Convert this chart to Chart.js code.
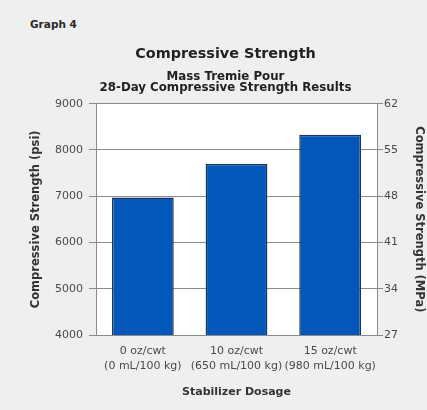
<!DOCTYPE html>
<html>
<head>
<meta charset="utf-8">
<script src="https://cdn.jsdelivr.net/npm/chart.js@4.4.1/dist/chart.umd.min.js"></script>
<style>
  body { margin: 0; background: #efefef; }
  #wrap { position: relative; width: 427px; height: 410px; }
  #graphLabel { position: absolute; left: 30px; top: 18px; line-height: 12px; font: bold 10.5px "DejaVu Sans", sans-serif; color: #2a2a2a; }
  canvas { position: absolute; left: 0; top: 0; }
</style>
</head>
<body>
<div id="wrap">
  <div id="graphLabel">Graph 4</div>
  <canvas id="chart" width="427" height="410"></canvas>
</div>
<script>
// Chart data
const categories = [
    ['0 oz/cwt', '(0 mL/100 kg)'],
    ['10 oz/cwt', '(650 mL/100 kg)'],
    ['15 oz/cwt', '(980 mL/100 kg)']
];
const psiValues = [6970, 7700, 8330];
const psiTicks = [4000, 5000, 6000, 7000, 8000, 9000];
const mpaTicks = [27, 34, 41, 48, 55, 62];

const fontFamily = '"DejaVu Sans", sans-serif';
const lineGrey = '#8a8a8a';

// white plot area on grey page
const plotBackground = {
    id: 'plotBackground',
    beforeDraw: function(chart) {
        const a = chart.chartArea;
        const ctx = chart.ctx;
        ctx.save();
        ctx.fillStyle = '#ffffff';
        ctx.fillRect(a.left, a.top, a.right - a.left, a.bottom - a.top);
        ctx.restore();
    }
};

function plainTick(value) {
    return String(value);
}

const ctx = document.getElementById('chart').getContext('2d');
new Chart(ctx, {
    type: 'bar',
    data: {
        labels: categories,
        datasets: [{
            data: psiValues,
            backgroundColor: '#0357b8',
            borderColor: '#1d3557',
            borderWidth: 1.5,
            barPercentage: 0.66,
            categoryPercentage: 1.0,
            yAxisID: 'y'
        }]
    },
    options: {
        responsive: false,
        animation: false,
        layout: { padding: { top: 36, left: 24, right: 0, bottom: 0 } },
        plugins: {
            legend: { display: false },
            tooltip: { enabled: false },
            title: {
                display: true,
                text: 'Compressive Strength',
                color: '#222',
                font: { family: fontFamily, size: 14.4, weight: 'bold', lineHeight: 1.15 },
                padding: { top: 9.5, bottom: 2 }
            },
            subtitle: {
                display: true,
                text: ['Mass Tremie Pour', '28-Day Compressive Strength Results'],
                color: '#222',
                font: { family: fontFamily, size: 11.8, weight: 'bold', lineHeight: 1.0 },
                padding: { top: 6.5, bottom: 9.5 }
            }
        },
        scales: {
            x: {
                grid: { display: false, drawTicks: false },
                border: { display: true, color: lineGrey, width: 1 },
                ticks: {
                    color: '#4a4a4a',
                    padding: 8.6,
                    maxRotation: 0,
                    minRotation: 0,
                    autoSkip: false,
                    font: { family: fontFamily, size: 11, lineHeight: 1.35 }
                },
                title: {
                    display: true,
                    text: 'Stabilizer Dosage',
                    color: '#333',
                    font: { family: fontFamily, size: 11, weight: 'bold', lineHeight: 1.2 },
                    padding: { top: 0, bottom: 11 }
                },
                afterFit: function(scale) { scale.height = 75; }
            },
            y: {
                position: 'left',
                min: psiTicks[0],
                max: psiTicks[psiTicks.length - 1],
                afterBuildTicks: function(scale) {
                    scale.ticks = psiTicks.map(function(v) { return { value: v }; });
                },
                grid: { color: lineGrey, lineWidth: 1, tickLength: 7 },
                border: { display: true, color: lineGrey, width: 1 },
                ticks: { color: '#4a4a4a', padding: 6, callback: plainTick, font: { family: fontFamily, size: 11 } },
                title: {
                    display: true,
                    text: 'Compressive Strength (psi)',
                    color: '#333',
                    font: { family: fontFamily, size: 11.5, weight: 'bold', lineHeight: 1.2 },
                    padding: { top: 5, bottom: 0 }
                },
                afterFit: function(scale) { scale.width = 72; }
            },
            y2: {
                position: 'right',
                min: mpaTicks[0],
                max: mpaTicks[mpaTicks.length - 1],
                afterBuildTicks: function(scale) {
                    scale.ticks = mpaTicks.map(function(v) { return { value: v }; });
                },
                grid: { drawOnChartArea: false, color: lineGrey, tickLength: 6 },
                border: { display: true, color: lineGrey, width: 1 },
                ticks: { color: '#4a4a4a', padding: 1, callback: plainTick, font: { family: fontFamily, size: 11 } },
                title: {
                    display: true,
                    text: 'Compressive Strength (MPa)',
                    color: '#333',
                    font: { family: fontFamily, size: 11.5, weight: 'bold', lineHeight: 1.2 },
                    padding: { top: 1.5, bottom: 0 }
                },
                afterFit: function(scale) { scale.width = 50; }
            }
        }
    },
    plugins: [plotBackground]
});
</script>
</body>
</html>
